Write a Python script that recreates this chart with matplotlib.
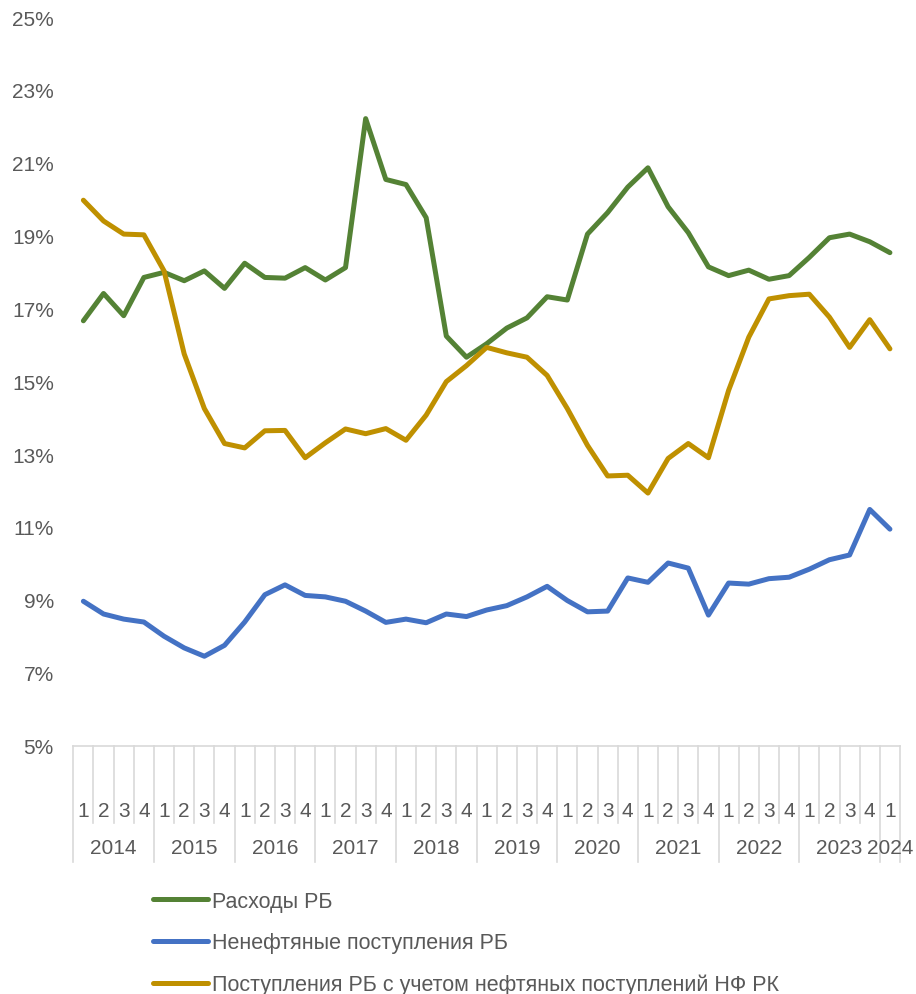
import numpy as np
import matplotlib
matplotlib.use("Agg")
import matplotlib.pyplot as plt
from matplotlib.transforms import blended_transform_factory

plt.rcParams['font.family'] = ['Liberation Sans', 'DejaVu Sans']

# Данные (% ВВП), кварталы 2014 Q1 - 2024 Q1
anos = ["2014", "2015", "2016", "2017", "2018", "2019", "2020", "2021", "2022", "2023", "2024"]
trimestres = ["1", "2", "3", "4"] * 10 + ["1"]

rashody = [16.66, 17.41, 16.80, 17.85, 17.99, 17.76, 18.03, 17.55, 18.24, 17.85,
           17.83, 18.12, 17.78, 18.12, 22.21, 20.54, 20.40, 19.49, 16.24, 15.66,
           16.03, 16.46, 16.74, 17.32, 17.23, 19.04, 19.63, 20.33, 20.86, 19.79,
           19.08, 18.14, 17.90, 18.05, 17.80, 17.90, 18.40, 18.94, 19.04, 18.83,
           18.53]
nenef = [8.96, 8.61, 8.47, 8.39, 8.00, 7.68, 7.45, 7.75, 8.39, 9.14,
         9.41, 9.12, 9.08, 8.96, 8.69, 8.38, 8.47, 8.37, 8.61, 8.54,
         8.72, 8.84, 9.08, 9.37, 8.98, 8.67, 8.69, 9.60, 9.48, 10.01,
         9.87, 8.58, 9.46, 9.43, 9.58, 9.62, 9.84, 10.10, 10.23, 11.48,
         10.94]
postup = [19.97, 19.40, 19.04, 19.02, 18.03, 15.75, 14.25, 13.29, 13.17, 13.64,
          13.65, 12.90, 13.31, 13.69, 13.56, 13.70, 13.38, 14.07, 14.99, 15.43,
          15.93, 15.78, 15.66, 15.16, 14.25, 13.24, 12.40, 12.42, 11.93, 12.88,
          13.29, 12.90, 14.75, 16.21, 17.26, 17.35, 17.39, 16.76, 15.93, 16.69,
          15.89]

nomes = ["Расходы РБ", "Ненефтяные поступления РБ",
         "Поступления РБ с учетом нефтяных поступлений НФ РК"]
cores = ["#548235", "#4472C4", "#BF9000"]
cinza = "#595959"
linha_cinza = "#D9D9D9"
FS = 15
FS_LEG = 15.5

W, H = 916, 995
fig = plt.figure(figsize=(W / 100, H / 100), dpi=100)
ax_l, ax_r, ax_t, ax_b = 73.3, 900, 18, 746.5
ax = fig.add_axes([ax_l / W, (H - ax_b) / H, (ax_r - ax_l) / W, (ax_b - ax_t) / H])
altura_px = ax_b - ax_t

x = np.arange(len(rashody))
for serie, nome, cor in zip([rashody, nenef, postup], nomes, cores):
    ax.plot(x, serie, color=cor, lw=3.6, label=nome, solid_capstyle="round",
            solid_joinstyle="round")

ax.set_xlim(-0.5, len(x) - 0.5)
ax.set_ylim(5, 25)
ax.set_yticks(np.arange(5, 26, 2))
ax.set_yticklabels([f"{v}%" for v in range(5, 26, 2)], color=cinza, fontsize=FS)
ax.tick_params(axis="y", length=0, pad=14)
ax.set_xticks([])
for s in ["left", "right", "top"]:
    ax.spines[s].set_visible(False)
ax.spines["bottom"].set_color(linha_cinza)
ax.spines["bottom"].set_linewidth(1.2)

# Eixo de categorias em dois níveis
trans = blended_transform_factory(ax.transData, ax.transAxes)
def abaixo(px):
    return -px / altura_px

for i, q in enumerate(trimestres):
    ax.text(i, abaixo(65), q, transform=trans, ha="center", va="center",
            color=cinza, fontsize=FS)

for b in range(len(x) + 1):
    pos = b - 0.5
    comprido = (b % 4 == 0) or b == len(x)
    fim = 116 if comprido else 77
    ax.plot([pos, pos], [0, abaixo(fim)], transform=trans, color=linha_cinza,
            lw=1.2, clip_on=False)

for k, ano in enumerate(anos):
    ini = 4 * k
    fim = min(4 * k + 3, len(x) - 1)
    ax.text((ini + fim) / 2, abaixo(102), ano, transform=trans, ha="center",
            va="center", color=cinza, fontsize=FS)

leg = fig.legend(loc="upper left", bbox_to_anchor=(153 / W, (H - 892) / H),
                 frameon=False, fontsize=FS_LEG, handlelength=2.55, handletextpad=0.2,
                 labelspacing=0.95, borderpad=0, borderaxespad=0)
for t in leg.get_texts():
    t.set_color(cinza)

fig.savefig("out.png", dpi=100)
